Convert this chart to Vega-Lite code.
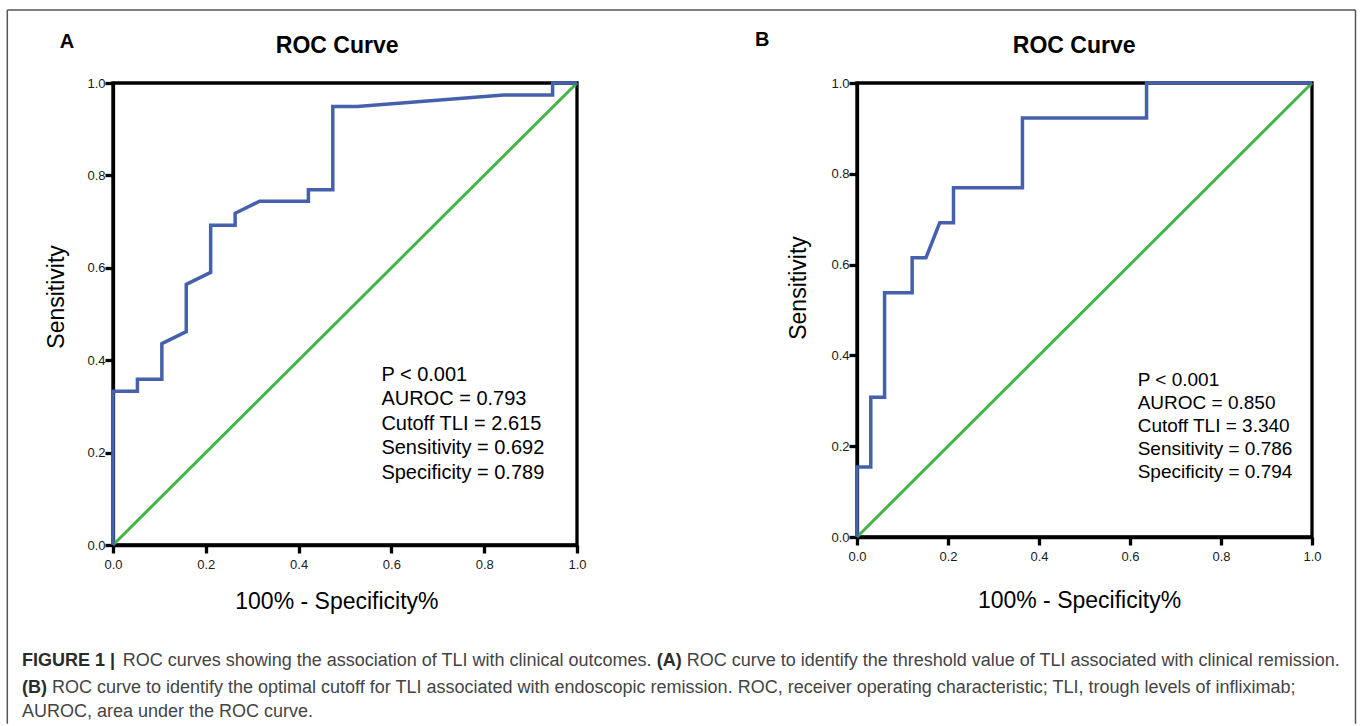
{
  "$schema": "https://vega.github.io/schema/vega-lite/v6.json",
  "background": "white",
  "padding": {"left": 4, "top": 7, "right": 0, "bottom": 0},
  "bounds": "flush",
  "spacing": 280,
  "datasets": {
    "rocA": [
      {"i": 0, "fpr": 0, "tpr": 0},
      {"i": 1, "fpr": 0, "tpr": 0.333},
      {"i": 2, "fpr": 0.0526, "tpr": 0.333},
      {"i": 3, "fpr": 0.0526, "tpr": 0.359},
      {"i": 4, "fpr": 0.1053, "tpr": 0.359},
      {"i": 5, "fpr": 0.1053, "tpr": 0.436},
      {"i": 6, "fpr": 0.1579, "tpr": 0.462},
      {"i": 7, "fpr": 0.1579, "tpr": 0.564},
      {"i": 8, "fpr": 0.2105, "tpr": 0.59},
      {"i": 9, "fpr": 0.2105, "tpr": 0.692},
      {"i": 10, "fpr": 0.2632, "tpr": 0.692},
      {"i": 11, "fpr": 0.2632, "tpr": 0.718},
      {"i": 12, "fpr": 0.3158, "tpr": 0.744},
      {"i": 13, "fpr": 0.4211, "tpr": 0.744},
      {"i": 14, "fpr": 0.4211, "tpr": 0.769},
      {"i": 15, "fpr": 0.4737, "tpr": 0.769},
      {"i": 16, "fpr": 0.4737, "tpr": 0.949},
      {"i": 17, "fpr": 0.5263, "tpr": 0.949},
      {"i": 18, "fpr": 0.8421, "tpr": 0.974},
      {"i": 19, "fpr": 0.9474, "tpr": 0.974},
      {"i": 20, "fpr": 0.9474, "tpr": 1.0},
      {"i": 21, "fpr": 1.0, "tpr": 1.0}
    ],
    "rocB": [
      {"i": 0, "fpr": 0, "tpr": 0},
      {"i": 1, "fpr": 0, "tpr": 0.154},
      {"i": 2, "fpr": 0.0303, "tpr": 0.154},
      {"i": 3, "fpr": 0.0303, "tpr": 0.308},
      {"i": 4, "fpr": 0.0606, "tpr": 0.308},
      {"i": 5, "fpr": 0.0606, "tpr": 0.538},
      {"i": 6, "fpr": 0.1212, "tpr": 0.538},
      {"i": 7, "fpr": 0.1212, "tpr": 0.615},
      {"i": 8, "fpr": 0.1515, "tpr": 0.615},
      {"i": 9, "fpr": 0.1818, "tpr": 0.692},
      {"i": 10, "fpr": 0.2121, "tpr": 0.692},
      {"i": 11, "fpr": 0.2121, "tpr": 0.769},
      {"i": 12, "fpr": 0.3636, "tpr": 0.769},
      {"i": 13, "fpr": 0.3636, "tpr": 0.923},
      {"i": 14, "fpr": 0.6364, "tpr": 0.923},
      {"i": 15, "fpr": 0.6364, "tpr": 1.0},
      {"i": 16, "fpr": 1.0, "tpr": 1.0}
    ],
    "diag": [
      {"x": 0, "y": 0},
      {"x": 1, "y": 1}
    ],
    "one": [{}]
  },
  "config": {
    "font": "Liberation Sans",
    "view": {"stroke": "black", "strokeWidth": 3.3},
    "axis": {
      "grid": false,
      "domainColor": "black",
      "domainWidth": 3.3,
      "tickColor": "black",
      "tickWidth": 3.3,
      "tickSize": 8,
      "labelFont": "Liberation Sans",
      "labelFontSize": 13,
      "labelColor": "#1a1a1a",
      "labelFlush": false,
      "labelOverlap": false,
      "titleFont": "Liberation Sans",
      "titleFontSize": 23,
      "titleFontWeight": "normal",
      "titleColor": "black"
    },
    "axisX": {"labelPadding": 5, "titleAlign": "center", "titleBaseline": "alphabetic"},
    "axisY": {"labelPadding": 0, "titleAlign": "center", "titleBaseline": "alphabetic", "titleAngle": -90}
  },
  "hconcat": [
    {
      "width": 464,
      "height": 462,
      "layer": [
        {
          "data": {"name": "diag"},
          "mark": {"type": "line", "color": "#42b549", "strokeWidth": 3},
          "encoding": {
            "x": {"field": "x", "type": "quantitative", "scale": {"domain": [0, 1], "nice": false}, "title": "100% - Specificity%",
                  "axis": {"values": [0, 0.2, 0.4, 0.6, 0.8, 1], "format": ".1f", "titleX": 223.4, "titleY": 63}},
            "y": {"field": "y", "type": "quantitative", "scale": {"domain": [0, 1], "nice": false}, "title": "Sensitivity",
                  "axis": {"values": [0, 0.2, 0.4, 0.6, 0.8, 1], "format": ".1f", "titleX": -49.5, "titleY": 213.4}}
          }
        },
        {
          "data": {"name": "rocA"},
          "mark": {"type": "line", "color": "#4561ab", "strokeWidth": 3.5},
          "encoding": {
            "x": {"field": "fpr", "type": "quantitative", "scale": {"domain": [0, 1], "nice": false}, "title": "100% - Specificity%"},
            "y": {"field": "tpr", "type": "quantitative", "scale": {"domain": [0, 1], "nice": false}, "title": "Sensitivity"},
            "order": {"field": "i", "type": "quantitative"}
          }
        },
        {
          "data": {"name": "one"},
          "mark": {"type": "text", "text": ["P < 0.001", "AUROC = 0.793", "Cutoff TLI = 2.615", "Sensitivity = 0.692", "Specificity = 0.789"], "fontSize": 20, "lineHeight": 24.5, "align": "left", "baseline": "alphabetic", "color": "black"},
          "encoding": {
            "x": {"datum": 0.5784, "type": "quantitative", "scale": {"domain": [0, 1], "nice": false}, "title": "100% - Specificity%"},
            "y": {"datum": 0.3556, "type": "quantitative", "scale": {"domain": [0, 1], "nice": false}, "title": "Sensitivity"}
          }
        },
        {
          "data": {"name": "one"},
          "mark": {"type": "text", "text": "ROC Curve", "fontSize": 23, "fontWeight": "bold", "align": "center", "baseline": "alphabetic", "color": "black"},
          "encoding": {
            "x": {"datum": 0.4832, "type": "quantitative", "scale": {"domain": [0, 1], "nice": false}, "title": "100% - Specificity%"},
            "y": {"datum": 1.0649, "type": "quantitative", "scale": {"domain": [0, 1], "nice": false}, "title": "Sensitivity"}
          }
        },
        {
          "data": {"name": "one"},
          "mark": {"type": "text", "text": "A", "fontSize": 20, "fontWeight": "bold", "align": "left", "baseline": "alphabetic", "color": "black"},
          "encoding": {
            "x": {"datum": -0.1149, "type": "quantitative", "scale": {"domain": [0, 1], "nice": false}, "title": "100% - Specificity%"},
            "y": {"datum": 1.0758, "type": "quantitative", "scale": {"domain": [0, 1], "nice": false}, "title": "Sensitivity"}
          }
        },
        {
          "data": {"name": "one"},
          "mark": {"type": "text", "text": "FIGURE 1 |", "fontSize": 18, "fontWeight": "bold", "align": "left", "baseline": "alphabetic", "color": "#2b2b2b"},
          "encoding": {
            "x": {"datum": -0.1961, "type": "quantitative", "scale": {"domain": [0, 1], "nice": false}, "title": "100% - Specificity%"},
            "y": {"datum": -0.2628, "type": "quantitative", "scale": {"domain": [0, 1], "nice": false}, "title": "Sensitivity"}
          }
        },
        {
          "data": {"name": "one"},
          "mark": {"type": "text", "text": "ROC curves showing the association of TLI with clinical outcomes.", "fontSize": 18, "align": "left", "baseline": "alphabetic", "color": "#444444"},
          "encoding": {
            "x": {"datum": 0.0209, "type": "quantitative", "scale": {"domain": [0, 1], "nice": false}, "title": "100% - Specificity%"},
            "y": {"datum": -0.2628, "type": "quantitative", "scale": {"domain": [0, 1], "nice": false}, "title": "Sensitivity"}
          }
        },
        {
          "data": {"name": "one"},
          "mark": {"type": "text", "text": "(A)", "fontSize": 18, "fontWeight": "bold", "align": "left", "baseline": "alphabetic", "color": "#2b2b2b"},
          "encoding": {
            "x": {"datum": 1.1718, "type": "quantitative", "scale": {"domain": [0, 1], "nice": false}, "title": "100% - Specificity%"},
            "y": {"datum": -0.2628, "type": "quantitative", "scale": {"domain": [0, 1], "nice": false}, "title": "Sensitivity"}
          }
        },
        {
          "data": {"name": "one"},
          "mark": {"type": "text", "text": "ROC curve to identify the threshold value of TLI associated with clinical remission.", "fontSize": 18, "align": "left", "baseline": "alphabetic", "color": "#444444"},
          "encoding": {
            "x": {"datum": 1.2364, "type": "quantitative", "scale": {"domain": [0, 1], "nice": false}, "title": "100% - Specificity%"},
            "y": {"datum": -0.2628, "type": "quantitative", "scale": {"domain": [0, 1], "nice": false}, "title": "Sensitivity"}
          }
        },
        {
          "data": {"name": "one"},
          "mark": {"type": "text", "text": "(B)", "fontSize": 18, "fontWeight": "bold", "align": "left", "baseline": "alphabetic", "color": "#2b2b2b"},
          "encoding": {
            "x": {"datum": -0.1961, "type": "quantitative", "scale": {"domain": [0, 1], "nice": false}, "title": "100% - Specificity%"},
            "y": {"datum": -0.3203, "type": "quantitative", "scale": {"domain": [0, 1], "nice": false}, "title": "Sensitivity"}
          }
        },
        {
          "data": {"name": "one"},
          "mark": {"type": "text", "text": "ROC curve to identify the optimal cutoff for TLI associated with endoscopic remission. ROC, receiver operating characteristic; TLI, trough levels of infliximab;", "fontSize": 18, "align": "left", "baseline": "alphabetic", "color": "#444444"},
          "encoding": {
            "x": {"datum": -0.1315, "type": "quantitative", "scale": {"domain": [0, 1], "nice": false}, "title": "100% - Specificity%"},
            "y": {"datum": -0.3203, "type": "quantitative", "scale": {"domain": [0, 1], "nice": false}, "title": "Sensitivity"}
          }
        },
        {
          "data": {"name": "one"},
          "mark": {"type": "text", "text": "AUROC, area under the ROC curve.", "fontSize": 18, "align": "left", "baseline": "alphabetic", "color": "#444444"},
          "encoding": {
            "x": {"datum": -0.1961, "type": "quantitative", "scale": {"domain": [0, 1], "nice": false}, "title": "100% - Specificity%"},
            "y": {"datum": -0.3723, "type": "quantitative", "scale": {"domain": [0, 1], "nice": false}, "title": "Sensitivity"}
          }
        },
        {
          "data": {"name": "one"},
          "mark": {"type": "rule", "color": "#555555", "strokeWidth": 1.5},
          "encoding": {
            "x": {"datum": -0.2278, "type": "quantitative", "scale": {"domain": [0, 1], "nice": false}, "title": "100% - Specificity%"},
            "y": {"datum": 1.1582, "type": "quantitative", "scale": {"domain": [0, 1], "nice": false}, "title": "Sensitivity"},
            "y2": {"datum": -0.3868}
          }
        },
        {
          "data": {"name": "one"},
          "mark": {"type": "rule", "color": "#555555", "strokeWidth": 1.5},
          "encoding": {
            "x": {"datum": 2.6778, "type": "quantitative", "scale": {"domain": [0, 1], "nice": false}, "title": "100% - Specificity%"},
            "y": {"datum": 1.1582, "type": "quantitative", "scale": {"domain": [0, 1], "nice": false}, "title": "Sensitivity"},
            "y2": {"datum": -0.3868}
          }
        },
        {
          "data": {"name": "one"},
          "mark": {"type": "rule", "color": "#555555", "strokeWidth": 1.5},
          "encoding": {
            "x": {"datum": -0.2278, "type": "quantitative", "scale": {"domain": [0, 1], "nice": false}, "title": "100% - Specificity%"},
            "x2": {"datum": 2.6778},
            "y": {"datum": 1.1582, "type": "quantitative", "scale": {"domain": [0, 1], "nice": false}, "title": "Sensitivity"}
          }
        }
      ]
    },
    {
      "width": 455,
      "height": 454,
      "layer": [
        {
          "data": {"name": "diag"},
          "mark": {"type": "line", "color": "#42b549", "strokeWidth": 3},
          "encoding": {
            "x": {"field": "x", "type": "quantitative", "scale": {"domain": [0, 1], "nice": false}, "title": "100% - Specificity%",
                  "axis": {"values": [0, 0.2, 0.4, 0.6, 0.8, 1], "format": ".1f", "titleX": 222, "titleY": 70}},
            "y": {"field": "y", "type": "quantitative", "scale": {"domain": [0, 1], "nice": false}, "title": "Sensitivity",
                  "axis": {"values": [0, 0.2, 0.4, 0.6, 0.8, 1], "format": ".1f", "titleX": -51.5, "titleY": 204.5}}
          }
        },
        {
          "data": {"name": "rocB"},
          "mark": {"type": "line", "color": "#4561ab", "strokeWidth": 3.5},
          "encoding": {
            "x": {"field": "fpr", "type": "quantitative", "scale": {"domain": [0, 1], "nice": false}, "title": "100% - Specificity%"},
            "y": {"field": "tpr", "type": "quantitative", "scale": {"domain": [0, 1], "nice": false}, "title": "Sensitivity"},
            "order": {"field": "i", "type": "quantitative"}
          }
        },
        {
          "data": {"name": "one"},
          "mark": {"type": "text", "text": ["P < 0.001", "AUROC = 0.850", "Cutoff TLI = 3.340", "Sensitivity = 0.786", "Specificity = 0.794"], "fontSize": 19, "lineHeight": 23.1, "align": "left", "baseline": "alphabetic", "color": "black"},
          "encoding": {
            "x": {"datum": 0.6169, "type": "quantitative", "scale": {"domain": [0, 1], "nice": false}, "title": "100% - Specificity%"},
            "y": {"datum": 0.3333, "type": "quantitative", "scale": {"domain": [0, 1], "nice": false}, "title": "Sensitivity"}
          }
        },
        {
          "data": {"name": "one"},
          "mark": {"type": "text", "text": "ROC Curve", "fontSize": 23, "fontWeight": "bold", "align": "center", "baseline": "alphabetic", "color": "black"},
          "encoding": {
            "x": {"datum": 0.4774, "type": "quantitative", "scale": {"domain": [0, 1], "nice": false}, "title": "100% - Specificity%"},
            "y": {"datum": 1.0661, "type": "quantitative", "scale": {"domain": [0, 1], "nice": false}, "title": "Sensitivity"}
          }
        },
        {
          "data": {"name": "one"},
          "mark": {"type": "text", "text": "B", "fontSize": 20, "fontWeight": "bold", "align": "left", "baseline": "alphabetic", "color": "black"},
          "encoding": {
            "x": {"datum": -0.2242, "type": "quantitative", "scale": {"domain": [0, 1], "nice": false}, "title": "100% - Specificity%"},
            "y": {"datum": 1.0808, "type": "quantitative", "scale": {"domain": [0, 1], "nice": false}, "title": "Sensitivity"}
          }
        }
      ]
    }
  ]
}
